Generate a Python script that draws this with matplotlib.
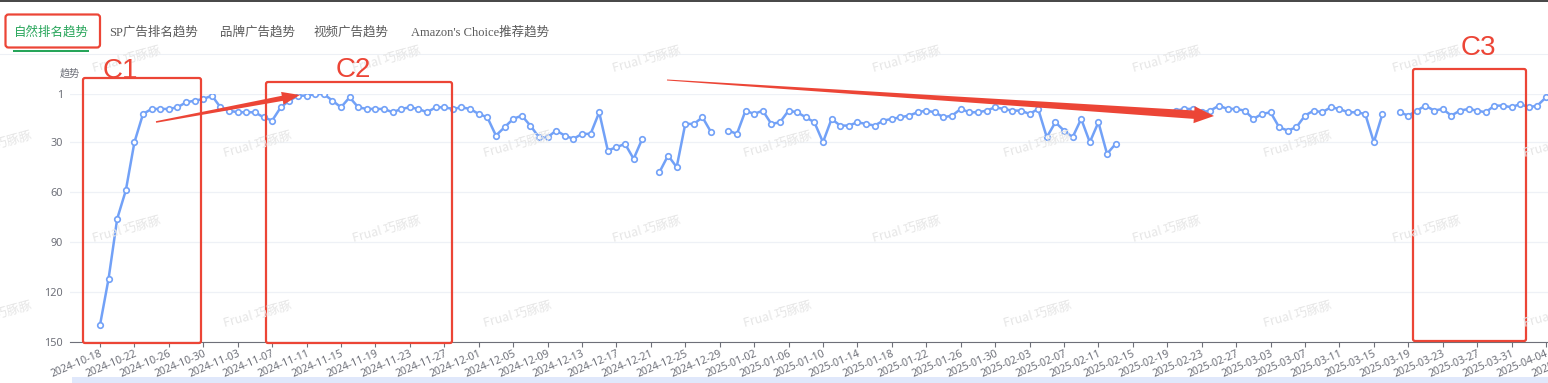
import matplotlib
matplotlib.use("Agg")
import matplotlib.pyplot as plt
from matplotlib.patches import Polygon, Rectangle, FancyBboxPatch
import numpy as np
import pandas as pd

plt.rcParams['font.family'] = ['Noto Sans CJK SC', 'DejaVu Sans']

# daily organic rank, None = no data that day
start_date = '2024-10-18'
ranks = [
    140, 112, 76, 59, 30, 13, 10, 10, 10, 9,
    6, 5, 4, 2, 9, 11, 12, 12, 12, 15,
    17, 9, 5, 2, 2, 1, 1, 5, 9, 3,
    9, 10, 10, 10, 12, 10, 9, 10, 12, 9,
    9, 10, 9, 10, 13, 15, 26, 21, 16, 14,
    20, 27, 27, 23, 26, 28, 25, 25, 12, 35,
    33, 31, 40, 28, None, 48, 38, 45, 19, 19,
    15, 24, None, 23, 25, 11, 13, 11, 19, 18,
    11, 12, 15, 18, 30, 16, 20, 20, 18, 19,
    20, 17, 16, 15, 14, 12, 11, 12, 15, 14,
    10, 12, 12, 11, 9, 10, 11, 11, 13, 10,
    27, 18, 23, 27, 16, 30, 18, 37, 31, None,
    None, None, None, None, None, 11, 10, 10, 12, 11,
    8, 10, 10, 11, 16, 13, 12, 21, 23, 21,
    14, 11, 12, 9, 10, 12, 12, 13, 30, 13,
    None, 12, 14, 11, 8, 11, 10, 14, 11, 10,
    11, 12, 8, 8, 9, 7, 9, 8, 3,
]
y_ticks = [1, 30, 60, 90, 120, 150]
tabs = ['自然排名趋势', 'SP广告排名趋势', '品牌广告趋势', '视频广告趋势', "Amazon's Choice推荐趋势"]
tab_x = [14, 109, 220, 314, 411]
boxes = {'C1': (83, 78, 201, 343), 'C2': (266, 82, 452, 343), 'C3': (1413, 69, 1526, 341)}
box_label_pos = {'C1': (103, 78), 'C2': (336, 77), 'C3': (1461, 55)}

W, H = 1548, 383
dates = pd.date_range(start_date, periods=len(ranks) + 6)
x = np.arange(len(ranks))
vals = np.array([np.nan if v is None else v for v in ranks], dtype=float)

fig = plt.figure(figsize=(W / 100, H / 100), dpi=100)
fig.patch.set_facecolor('white')

# main chart, placed in pixel terms (it runs past the right edge like the screenshot)
px_day = 8.607
x_left = -30 / px_day
x_right = 173
ax_l, ax_r = 70, 100 + x_right * px_day
ax_t, ax_b = 94, 341.7
ax = fig.add_axes([ax_l / W, 1 - ax_b / H, (ax_r - ax_l) / W, (ax_b - ax_t) / H])
ax.set_xlim(x_left, x_right)
ax.set_ylim(150, 1)

grey = '#6e7079'
ax.set_yticks(y_ticks)
ax.set_yticklabels([str(t) for t in y_ticks], family='Noto Sans', fontsize=7.8, color=grey)
ax.tick_params(axis='y', length=0, pad=5)
ax.grid(axis='y', color='#eef1f6', lw=0.9)
ax.set_axisbelow(True)
for s in ['top', 'right', 'left']:
    ax.spines[s].set_visible(False)
ax.spines['bottom'].set_color(grey)
ax.spines['bottom'].set_linewidth(0.8)

tick_pos = np.arange(0, len(dates), 4)
ax.set_xticks(tick_pos)
ax.set_xticklabels([dates[i].strftime('%Y-%m-%d') for i in tick_pos],
                   family='Noto Sans', fontsize=7.5, color=grey,
                   rotation=23, ha='right', va='top', rotation_mode='anchor')
ax.tick_params(axis='x', length=3.5, color=grey, width=0.8, pad=1.5)

blue = '#72a1f7'
ax.plot(x, vals, color=blue, lw=1.8, marker='o', ms=4, mfc='white', mec=blue, mew=1.2, zorder=3)

# overlay in pixel coordinates for the page decorations
ov = fig.add_axes([0, 0, 1, 1], zorder=5)
ov.set_xlim(0, W)
ov.set_ylim(H, 0)
ov.axis('off')
ov.patch.set_alpha(0)

ov.add_patch(Rectangle((0, 0), W, 2.2, color='#4a4a4a', lw=0))
ov.plot([0, W], [53.5, 53.5], color='#edf0f5', lw=0.8)
green = '#27a55a'
for i, (t, tx) in enumerate(zip(tabs, tab_x)):
    ov.text(tx, 32, t, family=['Liberation Serif', 'Noto Sans CJK SC'], fontsize=9,
            color=green if i == 0 else '#5a5a5a', ha='left', va='center')
ov.add_patch(Rectangle((12.5, 50), 76.5, 2, color=green, lw=0))
ov.text(69.5, 74, '趋势', fontsize=7.3, color=grey, ha='center', va='center')

# dataZoom strip peeking at the bottom
ov.add_patch(Rectangle((72, 377), W - 72, 7, color='#e0e8fb', lw=0))

# watermarks
for row_y, off in [(60, 127), (145, -2), (230, 127), (315, -2)]:
    for k in range(-1, 7):
        ov.text(off + 260 * k, row_y, 'Frual 巧豚豚', fontsize=9, color='#e6e6e6',
                rotation=15, ha='center', va='center')

red = '#ec4536'
ov.add_patch(FancyBboxPatch((5.5, 14.5), 94.5, 33, boxstyle='round,pad=0,rounding_size=3',
                            fill=False, ec=red, lw=1.6))
for name, (x0, y0, x1, y1) in boxes.items():
    ov.add_patch(FancyBboxPatch((x0, y0), x1 - x0, y1 - y0, boxstyle='round,pad=0,rounding_size=2',
                                fill=False, ec=red, lw=1.6))
    lx, ly = box_label_pos[name]
    ov.text(lx, ly, name, family='Liberation Sans', fontsize=20, color=red, ha='left', va='baseline')


def taper_arrow(x0, y0, x1, y1, w0, w1, hw, hl):
    dx, dy = x1 - x0, y1 - y0
    L = np.hypot(dx, dy)
    ux, uy = dx / L, dy / L
    nx, ny = -uy, ux
    bx, by = x1 - ux * hl, y1 - uy * hl
    pts = [(x0 + nx * w0, y0 + ny * w0), (bx + nx * w1, by + ny * w1), (bx + nx * hw, by + ny * hw),
           (x1, y1), (bx - nx * hw, by - ny * hw), (bx - nx * w1, by - ny * w1),
           (x0 - nx * w0, y0 - ny * w0)]
    ov.add_patch(Polygon(pts, closed=True, color=red, lw=0))


taper_arrow(156, 122, 300, 95, 0.8, 2.6, 6.5, 18)
taper_arrow(667, 80, 1214, 116, 0.5, 4.2, 8.5, 20)

fig.savefig('out.png', dpi=100)
